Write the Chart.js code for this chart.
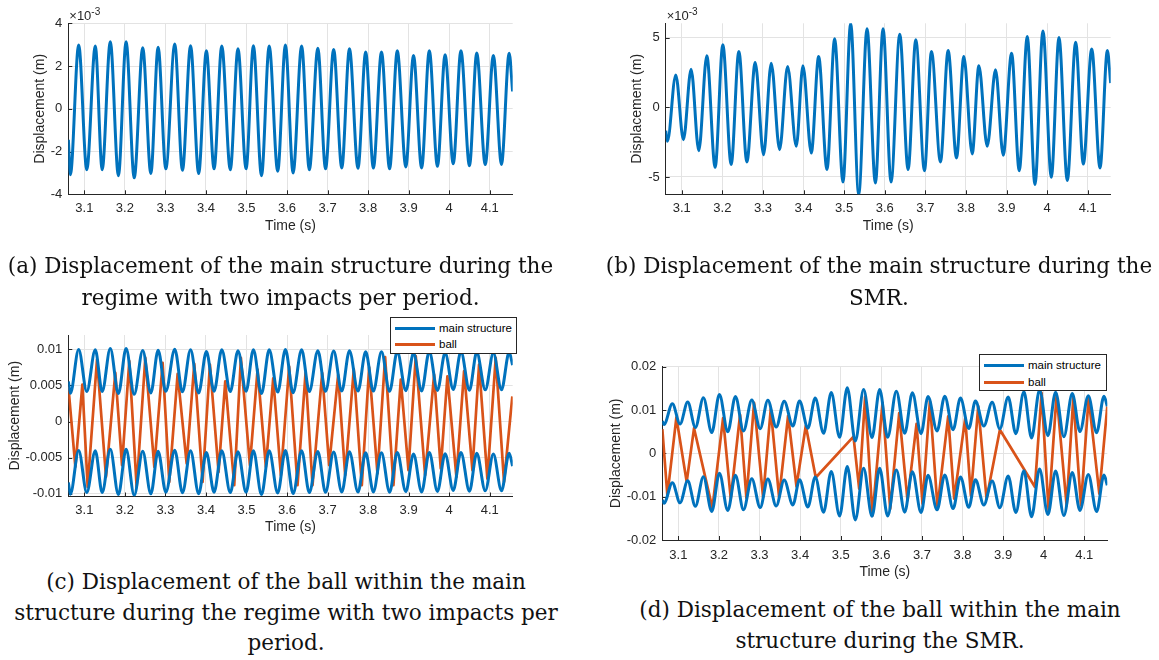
<!DOCTYPE html>
<html>
<head>
<meta charset="utf-8">
<script src="https://cdn.jsdelivr.net/npm/chart.js@4.4.1/dist/chart.umd.min.js"></script>
<style>
  body { margin: 0; background: #fff; width: 1159px; height: 660px; position: relative; overflow: hidden; font-family: "Liberation Sans", Arial, sans-serif; }
  canvas { position: absolute; }
  .cap { position: absolute; text-align: center; font-family: "DejaVu Serif", serif; font-size: 21.5px; color: #111; white-space: nowrap; }
  .legend { position: absolute; background: #fff; border: 1px solid #262626; box-sizing: border-box; font-size: 11.5px; color: #000; }
  .legend .sw { position: absolute; left: 4px; width: 40px; height: 3px; }
  .legend .lbl { position: absolute; left: 48px; line-height: 14px; }
</style>
</head>
<body>
<canvas id="chartA"></canvas>
<canvas id="chartB"></canvas>
<canvas id="chartC"></canvas>
<canvas id="chartD"></canvas>

<div class="legend" style="left:390px;top:317px;width:127px;height:37px">
  <div class="sw" style="top:9px;background:#0072BD"></div><div class="lbl" style="top:3px">main structure</div>
  <div class="sw" style="top:25px;background:#D95319"></div><div class="lbl" style="top:19px">ball</div>
</div>
<div class="legend" style="left:979px;top:354px;width:128px;height:37px">
  <div class="sw" style="top:9px;background:#0072BD"></div><div class="lbl" style="top:3px">main structure</div>
  <div class="sw" style="top:26px;background:#D95319"></div><div class="lbl" style="top:20px">ball</div>
</div>

<div class="cap" style="left:0;top:250px;width:561px;line-height:32px">(a) Displacement of the main structure during the<br>regime with two impacts per period.</div>
<div class="cap" style="left:600px;top:250px;width:558px;line-height:32px">(b) Displacement of the main structure during the<br>SMR.</div>
<div class="cap" style="left:0;top:567px;width:572px;line-height:30.5px">(c) Displacement of the ball within the main<br>structure during the regime with two impacts per<br>period.</div>
<div class="cap" style="left:600px;top:594px;width:560px;line-height:31px">(d) Displacement of the ball within the main<br>structure during the SMR.</div>

<script>
// values in units of 1e-3 m
const xTicks = [3.1, 3.2, 3.3, 3.4, 3.5, 3.6, 3.7, 3.8, 3.9, 4, 4.1];

const yTicksA = [-4, -2, 0, 2, 4];
const yTicksB = [-5, 0, 5];
const yTicksC = [-10, -5, 0, 5, 10];
const yLabelsC = ["-0.01", "-0.005", "0", "0.005", "0.01"];
const yTicksD = [-20, -10, 0, 10, 20];
const yLabelsD = ["-0.02", "-0.01", "0", "0.01", "0.02"];

// regime with two impacts per period (a, c)
const timeA = [3.0606, 3.0655, 3.086, 3.106, 3.127, 3.144, 3.164, 3.184, 3.203, 3.223, 3.244, 3.264, 3.282, 3.301, 3.323, 3.342, 3.362, 3.382, 3.401, 3.42, 3.439, 3.46, 3.479, 3.499, 3.517, 3.537, 3.556, 3.577, 3.596, 3.615, 3.636, 3.655, 3.676, 3.695, 3.715, 3.735, 3.754, 3.775, 3.794, 3.813, 3.833, 3.853, 3.872, 3.893, 3.912, 3.932, 3.951, 3.971, 3.99, 4.01, 4.029, 4.05, 4.068, 4.089, 4.109, 4.129, 4.148, 4.1565];
const dispA = [-1.45, -3.08, 2.99, -2.85, 2.94, -2.85, 3.14, -3.13, 3.14, -3.23, 2.86, -3.03, 2.88, -2.81, 3.03, -2.88, 2.95, -3.03, 2.71, -2.81, 2.94, -2.85, 2.81, -2.81, 2.95, -3.13, 2.94, -2.92, 2.99, -3.0, 2.94, -2.85, 2.83, -2.81, 2.78, -2.77, 2.81, -2.78, 2.66, -2.77, 2.66, -2.81, 2.71, -2.72, 2.49, -2.77, 2.72, -2.69, 2.53, -2.57, 2.72, -2.66, 2.61, -2.61, 2.49, -2.6, 2.6, 0.81];
const upperC = [5.55, 3.92, 9.99, 4.15, 9.94, 4.15, 10.14, 3.87, 10.14, 3.77, 9.86, 3.97, 9.88, 4.19, 10.03, 4.12, 9.95, 3.97, 9.71, 4.19, 9.94, 4.15, 9.81, 4.19, 9.95, 3.87, 9.94, 4.08, 9.99, 4.0, 9.94, 4.15, 9.83, 4.19, 9.78, 4.23, 9.81, 4.22, 9.66, 4.23, 9.66, 4.19, 9.71, 4.28, 9.49, 4.23, 9.72, 4.31, 9.53, 4.43, 9.72, 4.34, 9.61, 4.39, 9.49, 4.4, 9.6, 7.81];
const lowerC = [-8.45, -10.08, -4.01, -9.85, -4.06, -9.85, -3.86, -10.13, -3.86, -10.23, -4.14, -10.03, -4.12, -9.81, -3.97, -9.88, -4.05, -10.03, -4.29, -9.81, -4.06, -9.85, -4.19, -9.81, -4.05, -10.13, -4.06, -9.92, -4.01, -10.0, -4.06, -9.85, -4.17, -9.81, -4.22, -9.77, -4.19, -9.78, -4.34, -9.77, -4.34, -9.81, -4.29, -9.72, -4.51, -9.77, -4.28, -9.69, -4.47, -9.57, -4.28, -9.66, -4.39, -9.61, -4.51, -9.6, -4.4, -6.19];
const ballTimeC = [3.0606, 3.0778, 3.0951, 3.1082, 3.1312, 3.1534, 3.1764, 3.1929, 3.2109, 3.229, 3.2504, 3.2726, 3.2931, 3.3095, 3.3301, 3.3523, 3.3712, 3.3917, 3.4098, 3.4311, 3.4476, 3.4698, 3.4862, 3.5084, 3.5273, 3.5478, 3.5659, 3.5848, 3.6053, 3.6259, 3.6456, 3.6629, 3.6867, 3.7039, 3.7261, 3.7434, 3.7647, 3.7845, 3.8026, 3.8231, 3.842, 3.8625, 3.8806, 3.8995, 3.9176, 3.9406, 3.9628, 3.9792, 3.9956, 4.0178, 4.0367, 4.0573, 4.0737, 4.0942, 4.1148, 4.1353, 4.1558];
const ballC = [4.84, -6.28, 5.12, -9.07, 8.6, -7.67, 6.74, -6.05, 8.37, -9.07, 8.84, -6.28, 8.14, -8.37, 6.6, -5.81, 8.0, -8.37, 7.91, -6.98, 5.58, -8.84, 8.84, -6.05, 7.21, -6.28, 6.0, -7.44, 7.63, -8.84, 6.7, -8.84, 6.7, -6.05, 6.47, -7.44, 7.26, -8.84, 7.53, -7.21, 8.93, -8.84, 5.81, -6.74, 9.07, -7.44, 6.51, -6.51, 6.28, -7.67, 6.98, -6.74, 7.91, -7.91, 8.84, -8.37, 3.49];

// SMR (b, d)
const timeB = [3.0605, 3.0646, 3.0852, 3.1041, 3.123, 3.1419, 3.1617, 3.1822, 3.2011, 3.2217, 3.2406, 3.2604, 3.2809, 3.3015, 3.3204, 3.341, 3.3607, 3.3821, 3.3985, 3.4191, 3.4372, 3.4577, 3.4766, 3.4972, 3.5161, 3.5359, 3.5564, 3.577, 3.5959, 3.6156, 3.637, 3.6576, 3.6765, 3.6979, 3.7151, 3.7373, 3.7562, 3.7768, 3.7949, 3.8155, 3.8319, 3.8525, 3.873, 3.8919, 3.9125, 3.9314, 3.9512, 3.9701, 3.9898, 4.0104, 4.0293, 4.0498, 4.0704, 4.0893, 4.1099, 4.1304, 4.1485, 4.1567];
const dispB = [-1.67, -2.44, 2.34, -2.32, 2.75, -3.11, 3.71, -4.31, 4.5, -4.11, 4.02, -3.92, 3.23, -3.4, 3.18, -3.04, 2.94, -2.8, 2.99, -3.28, 3.66, -4.47, 4.93, -5.36, 6.05, -6.27, 5.65, -5.43, 5.65, -5.36, 5.26, -4.47, 4.86, -4.55, 4.02, -3.92, 4.09, -3.64, 3.66, -3.35, 2.99, -2.8, 2.7, -3.44, 3.9, -4.55, 5.1, -5.55, 5.5, -5.02, 5.02, -5.26, 4.69, -4.07, 4.21, -4.35, 4.09, 1.75];
const upperD = [7.43, 6.66, 11.44, 6.78, 11.85, 5.99, 12.81, 4.79, 13.6, 4.99, 13.12, 5.18, 12.33, 5.7, 12.28, 6.06, 12.04, 6.3, 12.09, 5.82, 12.76, 4.63, 14.03, 3.74, 15.15, 2.83, 14.75, 3.67, 14.75, 3.74, 14.36, 4.63, 13.96, 4.55, 13.12, 5.18, 13.19, 5.46, 12.76, 5.75, 12.09, 6.3, 11.8, 5.66, 13.0, 4.55, 14.2, 3.55, 14.6, 4.08, 14.12, 3.84, 13.79, 5.03, 13.31, 4.75, 13.19, 10.85];
const lowerD = [-10.77, -11.54, -6.76, -11.42, -6.35, -12.21, -5.39, -13.41, -4.6, -13.21, -5.08, -13.02, -5.87, -12.5, -5.92, -12.14, -6.16, -11.9, -6.11, -12.38, -5.44, -13.57, -4.17, -14.46, -3.05, -15.37, -3.45, -14.53, -3.45, -14.46, -3.84, -13.57, -4.24, -13.65, -5.08, -13.02, -5.01, -12.74, -5.44, -12.45, -6.11, -11.9, -6.4, -12.54, -5.2, -13.65, -4.0, -14.65, -3.6, -14.12, -4.08, -14.36, -4.41, -13.17, -4.89, -13.45, -5.01, -7.35];
const ballTimeD = [3.0605, 3.0729, 3.0951, 3.1205, 3.1386, 3.1838, 3.2101, 3.229, 3.252, 3.2676, 3.2865, 3.3087, 3.3276, 3.3481, 3.3703, 3.3909, 3.4139, 3.4385, 3.5314, 3.5454, 3.5601, 3.5782, 3.6029, 3.6218, 3.644, 3.6645, 3.6867, 3.7015, 3.7196, 3.7384, 3.7647, 3.7795, 3.8067, 3.8206, 3.8387, 3.8592, 3.8921, 3.9784, 3.9948, 4.0121, 4.0318, 4.0565, 4.0729, 4.0918, 4.1107, 4.137, 4.1567];
const ballD = [5.58, -9.69, 8.29, -6.59, 5.81, -12.64, 8.14, -10.47, 8.91, -10.31, 11.63, -10.08, 10.23, -10.08, 8.68, -7.6, 6.36, -5.58, 3.88, -8.14, 13.02, -14.34, 11.63, -12.79, 9.3, -10.85, 6.82, -11.63, 12.02, -12.4, 8.53, -10.47, 8.14, -9.69, 10.85, -10.47, 5.43, -7.75, 13.95, -13.18, 13.57, -12.02, 12.79, -12.02, 12.79, -9.3, 10.85];

const BLUE = "#0072BD";
const ORANGE = "#D95319";
const AXIS = "#262626";
const GRID = "#e3e3e3";
const X_MIN = 3.0604;
const X_MAX = 4.1567;

Chart.defaults.font.family = "'Liberation Sans', Arial, sans-serif";
Chart.defaults.color = AXIS;

function pts(xs, ys) {
  return xs.map((x, i) => ({ x, y: ys[i] }));
}

// MATLAB style ticks pointing into the axes
const tickMarks = {
  id: "tickMarks",
  beforeDatasetsDraw(chart) {
    const { ctx, chartArea, scales } = chart;
    ctx.save();
    ctx.strokeStyle = AXIS;
    ctx.lineWidth = 1;
    ctx.beginPath();
    scales.x.ticks.forEach((t) => {
      const px = Math.round(scales.x.getPixelForValue(t.value)) + 0.5;
      ctx.moveTo(px, chartArea.bottom);
      ctx.lineTo(px, chartArea.bottom - 4);
    });
    scales.y.ticks.forEach((t) => {
      const py = Math.round(scales.y.getPixelForValue(t.value)) + 0.5;
      ctx.moveTo(chartArea.left, py);
      ctx.lineTo(chartArea.left + 4, py);
    });
    ctx.stroke();
    ctx.restore();
  }
};

const expLabel = {
  id: "expLabel",
  afterDraw(chart, args, opts) {
    if (!opts.show) return;
    const { ctx, chartArea } = chart;
    ctx.save();
    ctx.fillStyle = AXIS;
    ctx.textBaseline = "alphabetic";
    ctx.font = "13px 'Liberation Sans'";
    const x = chartArea.left + 1;
    const y = chartArea.top - 3;
    ctx.fillText("\u00d710", x, y);
    const w = ctx.measureText("\u00d710").width;
    ctx.font = "10px 'Liberation Sans'";
    ctx.fillText("-3", x + w, y - 5);
    ctx.restore();
  }
};

function makePanel(cfg) {
  const cv = document.getElementById(cfg.id);
  cv.width = cfg.w;
  cv.height = cfg.h;
  cv.style.left = cfg.x + "px";
  cv.style.top = cfg.y + "px";
  const a = cfg.area;
  const datasets = cfg.series.map((s) => ({
    data: s.data,
    borderColor: s.color,
    borderWidth: s.width,
    pointRadius: 0,
    fill: false,
    cubicInterpolationMode: s.smooth ? "monotone" : "default",
    tension: 0,
    borderJoinStyle: "round"
  }));
  new Chart(cv, {
    type: "line",
    data: { datasets },
    options: {
      responsive: false,
      animation: false,
      events: [],
      layout: { padding: { top: a.top - cfg.y, right: cfg.x + cfg.w - a.right, left: 0, bottom: 0 } },
      plugins: {
        legend: { display: false },
        tooltip: { enabled: false },
        expLabel: { show: !!cfg.exp }
      },
      scales: {
        x: {
          type: "linear",
          min: X_MIN,
          max: X_MAX,
          afterBuildTicks: (s) => { s.ticks = xTicks.map((v) => ({ value: v })); },
          afterFit: (s) => { s.height = cfg.y + cfg.h - a.bottom; },
          ticks: { autoSkip: false, maxRotation: 0, padding: cfg.xTickY - a.bottom - 7.8, font: { size: 13 }, color: AXIS, callback: (v) => String(v) },
          grid: { color: GRID, drawTicks: false },
          border: { color: AXIS },
          title: { display: true, text: "Time (s)", font: { size: 14 }, color: AXIS, padding: { top: 0, bottom: cfg.y + cfg.h - cfg.xTitleY - 8.4 } }
        },
        y: {
          type: "linear",
          min: cfg.yMin,
          max: cfg.yMax,
          afterBuildTicks: (s) => { s.ticks = cfg.yTicks.map((v) => ({ value: v })); },
          afterFit: (s) => { s.width = a.left - cfg.x; },
          ticks: { padding: 6, font: { size: 13 }, color: AXIS, callback: (v, i) => (cfg.yLabels ? cfg.yLabels[i] : String(v)) },
          grid: { color: GRID, drawTicks: false },
          border: { color: AXIS },
          title: { display: true, text: "Displacement (m)", font: { size: 14 }, color: AXIS, padding: { top: cfg.yTitleX - cfg.x - 8.4, bottom: 0 } }
        }
      }
    },
    plugins: [tickMarks, expLabel]
  });
}

makePanel({
  id: "chartA", x: 0, y: 0, w: 540, h: 245,
  area: { left: 68.3, top: 23.3, right: 512.7, bottom: 194.3 },
  yMin: -4, yMax: 4, yTicks: yTicksA, exp: true,
  yTitleX: 40, xTickY: 208, xTitleY: 226,
  series: [{ data: pts(timeA, dispA), color: BLUE, width: 3, smooth: true }]
});

makePanel({
  id: "chartB", x: 590, y: 0, w: 560, h: 245,
  area: { left: 665.7, top: 23.3, right: 1110.7, bottom: 194.3 },
  yMin: -6.25, yMax: 6.05, yTicks: yTicksB, exp: true,
  yTitleX: 637, xTickY: 208, xTitleY: 226,
  series: [{ data: pts(timeB, dispB), color: BLUE, width: 3, smooth: true }]
});

makePanel({
  id: "chartC", x: 0, y: 300, w: 540, h: 240,
  area: { left: 68.3, top: 335, right: 512.7, bottom: 496.5 },
  yMin: -10.4, yMax: 12.0, yTicks: yTicksC, yLabels: yLabelsC,
  yTitleX: 15, xTickY: 510, xTitleY: 527,
  series: [
    { data: pts(timeA, upperC), color: BLUE, width: 3, smooth: true },
    { data: pts(timeA, lowerC), color: BLUE, width: 3, smooth: true },
    { data: pts(ballTimeC, ballC), color: ORANGE, width: 2.7, smooth: false }
  ]
});

makePanel({
  id: "chartD", x: 590, y: 330, w: 560, h: 255,
  area: { left: 662.3, top: 366.7, right: 1107.3, bottom: 540 },
  yMin: -20, yMax: 20, yTicks: yTicksD, yLabels: yLabelsD,
  yTitleX: 616, xTickY: 555, xTitleY: 572,
  series: [
    { data: pts(timeB, upperD), color: BLUE, width: 3, smooth: true },
    { data: pts(timeB, lowerD), color: BLUE, width: 3, smooth: true },
    { data: pts(ballTimeD, ballD), color: ORANGE, width: 2.7, smooth: false }
  ]
});
</script>
</body>
</html>
